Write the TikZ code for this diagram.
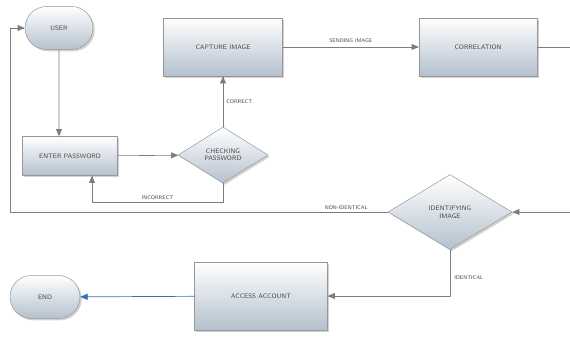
\documentclass[tikz,border=0pt]{standalone}
\usepackage{tikz}
\usetikzlibrary{arrows,shapes.geometric,shapes.misc,shadows}

\definecolor{boxbot}{RGB}{180,193,206}
\definecolor{lineg}{RGB}{125,125,125}
\definecolor{txtg}{RGB}{70,70,70}
\definecolor{endblue}{RGB}{60,110,180}

\tikzset{
  chartbox/.style={draw=lineg!80, line width=0.5pt, top color=white, bottom color=boxbot,
    text=txtg, font=\fontsize{6.5}{7.5}\selectfont\sffamily, align=center,
    drop shadow={shadow xshift=1.8pt, shadow yshift=-1.8pt, fill=black!35}},
  procbox/.style={chartbox, rectangle, inner sep=0pt},
  pillbox/.style={chartbox, rounded rectangle, inner sep=0pt},
  decibox/.style={chartbox, diamond, inner sep=0pt},
  flow/.style={draw=lineg, line width=0.6pt},
  lbl/.style={text=txtg, font=\fontsize{5.3}{6}\selectfont\sffamily, inner sep=1pt}
}

\begin{document}
\begin{tikzpicture}[line cap=round,line join=round,>=triangle 45,x=1pt,y=-1pt]
\useasboundingbox (0,0) rectangle (570,337);
% boxes
\node[pillbox, minimum width=68, minimum height=43] (user) at (59,28) {USER};
\node[procbox, minimum width=119, minimum height=58] (capture) at (223,47) {CAPTURE IMAGE};
\node[procbox, minimum width=118, minimum height=58] (correl) at (478,47) {CORRELATION};
\node[procbox, minimum width=95, minimum height=39] (enter) at (70,156) {ENTER PASSWORD};
\node[decibox, aspect=1.6, minimum width=90, minimum height=56] (check) at (223,155) {CHECKING\\PASSWORD};
\node[decibox, aspect=1.65, minimum width=124, minimum height=75] (ident) at (450,212) {IDENTIFYING\\IMAGE};
\node[procbox, minimum width=133, minimum height=68] (access) at (261,296) {ACCESS ACCOUNT};
\node[pillbox, minimum width=70, minimum height=43] (end) at (45,297) {END};
% free ends
\coordinate (corout) at (570,47);
\coordinate (idin) at (570,212);
\coordinate (loopleft) at (10,212);
\coordinate (incor) at (92,202);
% connectors
\draw[flow,->] (user) -- (user |- enter.north);
\draw[flow,->] (enter) -- (check);
\draw[flow,->] (check) -- node[lbl, right=2pt] {CORRECT} (capture);
\draw[flow,->] (check.south) |- node[lbl, pos=0.75, above=1pt] {INCORRECT} (incor) -- (incor |- enter.south);
\draw[flow,->] (capture) -- node[lbl, above=3pt] {SENDING IMAGE} (correl);
\draw[flow] (correl) -- (corout);
\draw[flow,->] (idin) -- (ident);
\draw[flow,->] (ident.west) -- node[lbl, pos=0.11, above=1pt] {NON-IDENTICAL} (loopleft) |- (user.west);
\draw[flow,->] (ident.south) |- node[lbl, pos=0.3, right=3pt] {IDENTICAL} (access.east);
\draw[draw=endblue, line width=0.7pt, ->] (access) -- (end);
\end{tikzpicture}
\end{document}
